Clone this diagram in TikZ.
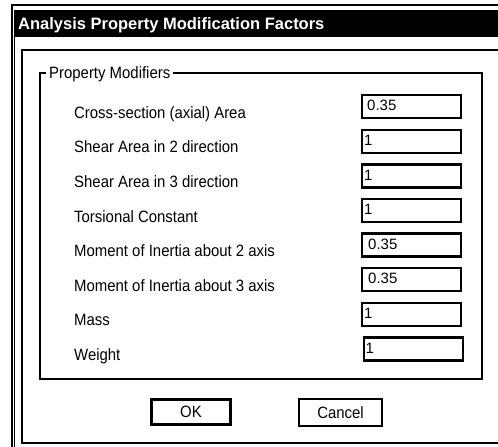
\documentclass[tikz,border=0pt]{standalone}
\usepackage{fontspec}
\setmainfont{Liberation Sans}
\newfontfamily\uifont[FakeStretch=0.91]{Liberation Sans}
\begin{document}
\begin{tikzpicture}[x=1pt,y=-1pt,
  lbl/.style={anchor=base west,inner sep=0pt,font=\uifont\fontsize{16.4}{19}\selectfont},
  valtxt/.style={anchor=base west,inner sep=0pt,font=\fontsize{15}{18}\selectfont},
  fieldbox/.style={draw=black,line width=2.3pt,minimum width=99pt,minimum height=23pt,inner sep=0pt,anchor=north west},
  okbtn/.style={draw=black,line width=3pt,minimum width=79pt,minimum height=25pt,inner sep=0pt,font=\uifont\fontsize{16.4}{19}\selectfont},
  cancelbtn/.style={draw=black,line width=2pt,minimum width=83pt,minimum height=27pt,inner sep=0pt,font=\uifont\fontsize{16.4}{19}\selectfont},
  frameline/.style={draw=black,line width=2pt}]
\useasboundingbox (0,0) rectangle (498,447);
\fill[white] (0,0) rectangle (498,447);
% outer window frame
\draw[line width=2pt] (11.5,447) -- (11.5,5) -- (498,5);
\draw[line width=1pt] (14.7,447) -- (14.7,9.5);
% title bar
\fill[black] (14.2,9.5) rectangle (498,37);
\node[anchor=base west,inner sep=0pt,text=white,font=\fontsize{16.5}{19}\selectfont\bfseries] (title) at (18,29.3) {Analysis Property Modification Factors};
% inner panel
\draw[frameline] (500,50) -- (22,50) -- (22,443) -- (500,443);
% group box
\draw[frameline] (40,73) rectangle (482,379);
\node[anchor=base west,inner sep=0pt,fill=white,inner xsep=3pt,font=\uifont\fontsize{16.4}{19}\selectfont] (grp) at (46,78.5) {Property Modifiers};
% rows
\foreach \i/\lab/\val/\vx/\bx in {
  0/{Cross-section (axial) Area}/0.35/6/0,
  1/{Shear Area in 2 direction}/1/3/0,
  2/{Shear Area in 3 direction}/1/3/0,
  3/{Torsional Constant}/1/3/0,
  4/{Moment of Inertia about 2 axis}/0.35/7/0,
  5/{Moment of Inertia about 3 axis}/0.35/7/0,
  6/{Mass}/1/3/0,
  7/{Weight}/1/3/1.5} {
  \pgfmathsetmacro{\top}{94+34.6*\i}
  \pgfmathsetmacro{\cy}{\top+11.5}
  \node[fieldbox] (box\i) at (361+\bx,\top) {};
  \node[valtxt] (val\i) at (361+\bx+\vx,\cy+5.4) {\val};
  \node[lbl] (lab\i) at (74,\cy+12.8) {\lab};
}
% buttons
\node[okbtn] (ok) at (191,412) {OK};
\node[cancelbtn] (cancel) at (340.5,412.5) {Cancel};
\end{tikzpicture}
\end{document}
